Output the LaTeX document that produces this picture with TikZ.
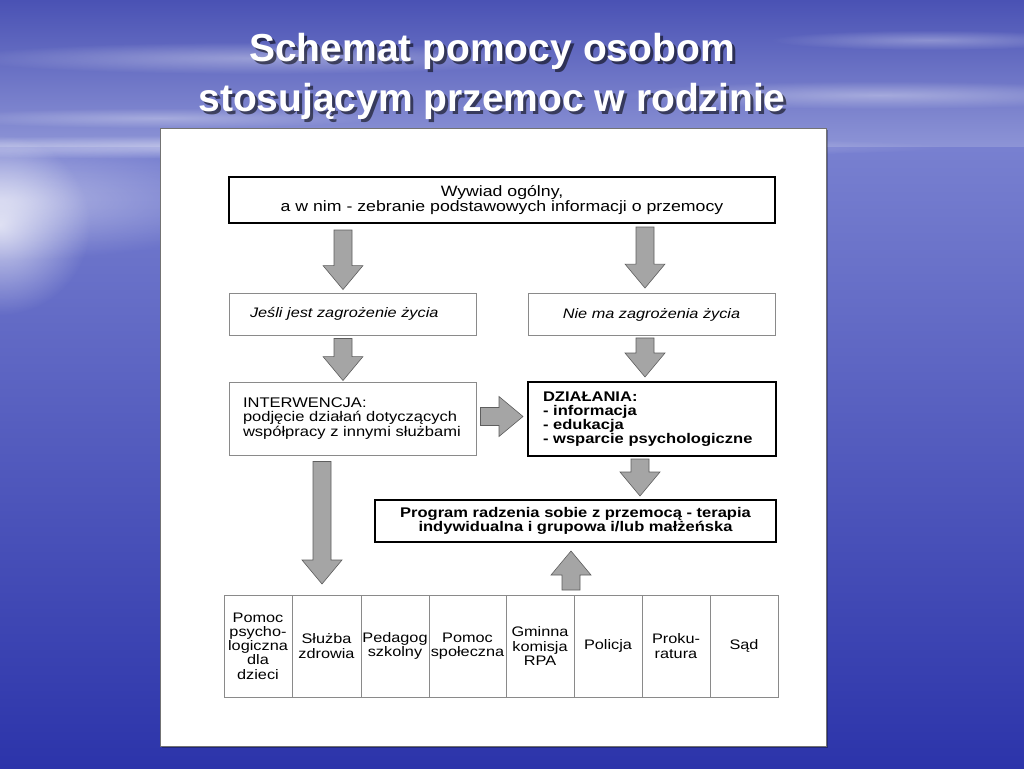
\documentclass[tikz,border=0pt]{standalone}
\usepackage{fontspec}
\setmainfont{Liberation Sans}
\newfontfamily\boxfont[FakeStretch=1.18]{Liberation Sans}
\usetikzlibrary{positioning, calc, fadings}

\definecolor{skytop}{HTML}{4A52B4}
\definecolor{skylow}{HTML}{8D94D6}
\definecolor{seatop}{HTML}{7880D0}
\definecolor{seamid}{HTML}{4C54C0}
\definecolor{seabot}{HTML}{2C34AA}
\definecolor{arrowgray}{HTML}{A5A5A5}
\definecolor{arrowline}{HTML}{5E5E5E}
\definecolor{thinline}{HTML}{8A8A8A}

\tikzfading[name=glowfade, inner color=transparent!0, outer color=transparent!100]

\tikzset{
  box/.style={draw=thinline, line width=0.9pt, fill=white, minimum height=42,
    font=\boxfont\fontsize{14}{14.3}\selectfont},
  thickbox/.style={box, draw=black, line width=2pt},
  cell/.style={draw=thinline, line width=0.9pt, minimum height=102, inner sep=0pt,
    outer sep=0pt, align=center, font=\boxfont\fontsize{13.8}{14.3}\selectfont},
  titletext/.style={anchor=base, text=white, font=\bfseries\fontsize{39}{39}\selectfont},
  fatarrow/.style={draw=arrowline, fill=arrowgray, line width=0.6pt, line join=miter,
    to path={
      ($(\tikztotarget)!24pt!(\tikztostart)$) coordinate (fahead)
      ($(\tikztostart)!9pt!90:(\tikztotarget)$)
      -- ($(fahead)!9pt!-90:(\tikztostart)$)
      -- ($(fahead)!20pt!-90:(\tikztostart)$)
      -- (\tikztotarget)
      -- ($(fahead)!20pt!90:(\tikztostart)$)
      -- ($(fahead)!9pt!90:(\tikztostart)$)
      -- ($(\tikztostart)!9pt!-90:(\tikztotarget)$)
      -- cycle}},
}

\begin{document}
\begin{tikzpicture}[x=1pt, y=-1pt]
  \useasboundingbox (0,0) rectangle (1024,768);
  % sky and sea
  \shade[top color=skytop, bottom color=skylow] (0,0) rectangle (1024,147);
  \shade[top color=seatop, middle color=seamid, bottom color=seabot] (0,147) rectangle (1024,768);
  \fill[white, path fading=glowfade, fill opacity=.35] (260,58) ellipse [x radius=300pt, y radius=16pt];
  \fill[white, path fading=glowfade, fill opacity=.35] (880,95) ellipse [x radius=260pt, y radius=14pt];
  \fill[white, path fading=glowfade, fill opacity=.3] (930,40) ellipse [x radius=160pt, y radius=10pt];
  \fill[white, path fading=glowfade, fill opacity=.3] (160,118) ellipse [x radius=220pt, y radius=10pt];
  \fill[white, path fading=glowfade, fill opacity=.5] (300,147) ellipse [x radius=650pt, y radius=12pt];
  \fill[white, path fading=glowfade, fill opacity=.45] (0,200) ellipse [x radius=260pt, y radius=60pt];
  \fill[white, path fading=glowfade, fill opacity=.7] (0,225) ellipse [x radius=90pt, y radius=90pt];

  % title
  \node[titletext, text=black, opacity=.55] (t1s) at (495,64) {Schemat pomocy osobom};
  \node[titletext, text=black, opacity=.55] (t2s) at (495,114) {stosującym przemoc w rodzinie};
  \node[titletext] (t1) at (492,61) {Schemat pomocy osobom};
  \node[titletext] (t2) at (492,111) {stosującym przemoc w rodzinie};

  % white sheet
  \fill[black, opacity=.3] (162,130) rectangle (828,748);
  \draw[fill=white, draw=black!55, line width=1pt] (160,128) rectangle (826,746);

  % boxes
  \node[thickbox, minimum width=546, minimum height=46, align=center,
    font=\boxfont\fontsize{15}{14.5}\selectfont] (top) at (502,200)
    {Wywiad ogólny,\\a w nim - zebranie podstawowych informacji o przemocy};
  \node[box, text width=205, inner xsep=21, align=left, font=\boxfont\itshape\fontsize{13.8}{14}\selectfont] (jesli) at (352.5,314)
    {Jeśli jest zagrożenie życia};
  \node[box, minimum width=247, align=center, font=\boxfont\itshape\fontsize{13.8}{14}\selectfont] (nie) at (651.5,314.5)
    {Nie ma zagrożenia życia};
  \node[box, text width=219, inner xsep=14, minimum height=73, align=left] (interw) at (352.5,418.5)
    {INTERWENCJA:\\podjęcie działań dotyczących\\współpracy z innymi służbami};
  \node[thickbox, text width=218, inner xsep=15, minimum height=74, align=left,
    font=\boxfont\bfseries\fontsize{14}{14}\selectfont] (dzial) at (652,419)
    {DZIAŁANIA:\\- informacja\\- edukacja\\- wsparcie psychologiczne};
  \node[thickbox, minimum width=401, minimum height=42, align=center,
    font=\boxfont\bfseries\fontsize{14}{14}\selectfont] (program) at (575.5,521)
    {Program radzenia sobie z przemocą - terapia\\indywidualna i grupowa i/lub małżeńska};

  % services
  \node[cell, minimum width=68] (c1) at (258,646) {Pomoc\\psycho-\\logiczna\\dla\\dzieci};
  \node[cell, minimum width=69, right=0pt of c1] (c2) {Służba\\zdrowia};
  \node[cell, minimum width=68, right=0pt of c2] (c3) {Pedagog\\szkolny};
  \node[cell, minimum width=77, right=0pt of c3] (c4) {Pomoc\\społeczna};
  \node[cell, minimum width=68, right=0pt of c4] (c5) {Gminna\\komisja\\RPA};
  \node[cell, minimum width=68, right=0pt of c5] (c6) {Policja};
  \node[cell, minimum width=68, right=0pt of c6] (c7) {Proku-\\ratura};
  \node[cell, minimum width=68, right=0pt of c7] (c8) {Sąd};

  % block arrows
  \coordinate (lx) at (343,0);
  \coordinate (rx) at (645,0);
  \coordinate (dx) at (640,0);
  \coordinate (vx) at (322,0);
  \coordinate (ux) at (571,0);
  \draw[fatarrow] ($(top.south -| lx)+(0,6)$) to ($(jesli.north -| lx)+(0,-3)$);
  \draw[fatarrow] ($(top.south -| rx)+(0,3)$) to ($(nie.north -| rx)+(0,-5)$);
  \draw[fatarrow] ($(jesli.south -| lx)+(0,3)$) to ($(interw.north -| lx)+(0,-1)$);
  \draw[fatarrow] ($(nie.south -| rx)+(0,2)$) to ($(dzial.north -| rx)+(0,-4)$);
  \draw[fatarrow] ($(interw.east)+(4,-2)$) to ($(dzial.west |- interw.east)+(-4,-2)$);
  \draw[fatarrow] ($(dzial.south -| dx)+(0,2)$) to ($(program.north -| dx)+(0,-3)$);
  \draw[fatarrow] ($(interw.south -| vx)+(0,6)$) to ($(c2.north -| vx)+(0,-11)$);
  \draw[fatarrow] ($(c5.north -| ux)+(0,-5)$) to ($(program.south -| ux)+(0,8)$);
\end{tikzpicture}
\end{document}
